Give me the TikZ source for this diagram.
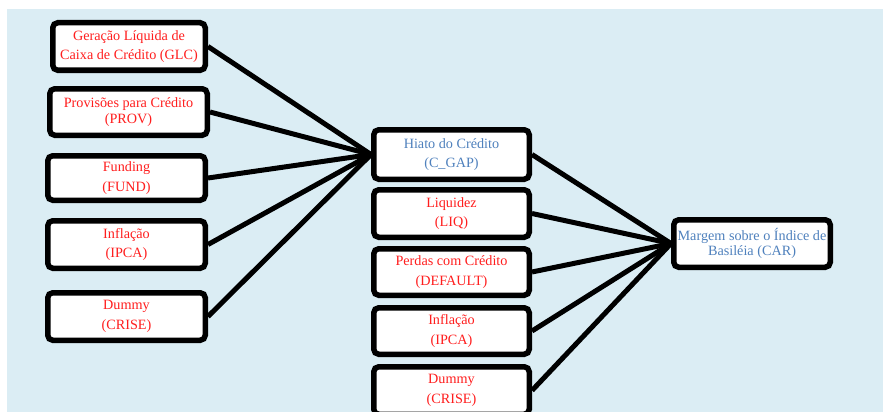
\documentclass[tikz,border=0pt]{standalone}
\usepackage{fontspec}
\setmainfont{Liberation Serif}
\usepackage{tikz}

\definecolor{bgblue}{RGB}{219,237,244}
\definecolor{varred}{RGB}{255,30,30}
\definecolor{varblue}{RGB}{79,129,189}

\tikzset{
	varbox/.style={draw=black, fill=white, line width=5.5pt, rounded corners=5pt,
		inner sep=0pt, align=center, text=varred, font=\fontsize{14.2}{19.5}\selectfont},
	leftbox/.style={varbox, minimum width=157.5pt},
	midbox/.style={varbox, minimum width=155.5pt},
	tight/.style={font=\fontsize{14.2}{15.5}\selectfont},
	link/.style={line width=5pt}
}

\begin{document}
\begin{tikzpicture}[x=1pt,y=-1pt]
	\useasboundingbox (0,0) rectangle (883,412);
	\clip (0,0) rectangle (883,412);
	\fill[bgblue] (7,9) rectangle (883,412);

	% explanatory variables of the credit gap
	\node[leftbox, minimum width=152.5pt, minimum height=47.5pt] (glc) at (129,46.5) {Geração Líquida de\\Caixa de Crédito (GLC)};
	\node[leftbox, minimum height=46.5pt, tight] (prov) at (128.5,112) {Provisões para Crédito\\(PROV)};
	\node[leftbox, minimum height=44.5pt] (fund) at (126.5,178) {Funding\\(FUND)};
	\node[leftbox, minimum height=47.5pt] (ipcaA) at (126.5,244.5) {Inflação\\(IPCA)};
	\node[leftbox, minimum height=47.5pt] (criseA) at (126.5,316.5) {Dummy\\(CRISE)};

	% explanatory variables of the capital margin
	\node[midbox, minimum height=49.5pt, text=varblue] (cgap) at (451.5,154.5) {Hiato do Crédito\\(C\_GAP)};
	\node[midbox, minimum height=47.5pt] (liq) at (451.5,213.5) {Liquidez\\(LIQ)};
	\node[midbox, minimum height=46.5pt] (default) at (451.5,272) {Perdas com Crédito\\(DEFAULT)};
	\node[midbox, minimum height=46.5pt] (ipcaB) at (451.5,331) {Inflação\\(IPCA)};
	\node[midbox, minimum height=47.5pt] (criseB) at (451.5,390.5) {Dummy\\(CRISE)};

	% dependent variable
	\node[varbox, minimum width=156.5pt, minimum height=47.5pt, text=varblue, tight] (car) at (752,243.5) {Margem sobre o Índice de\\Basiléia (CAR)};

	\foreach \v in {glc,prov,fund,ipcaA,criseA}
		\draw[link] (\v.east) -- (cgap.west);
	\foreach \v in {cgap,liq,default,ipcaB,criseB}
		\draw[link] (\v.east) -- (car.west);
\end{tikzpicture}
\end{document}
